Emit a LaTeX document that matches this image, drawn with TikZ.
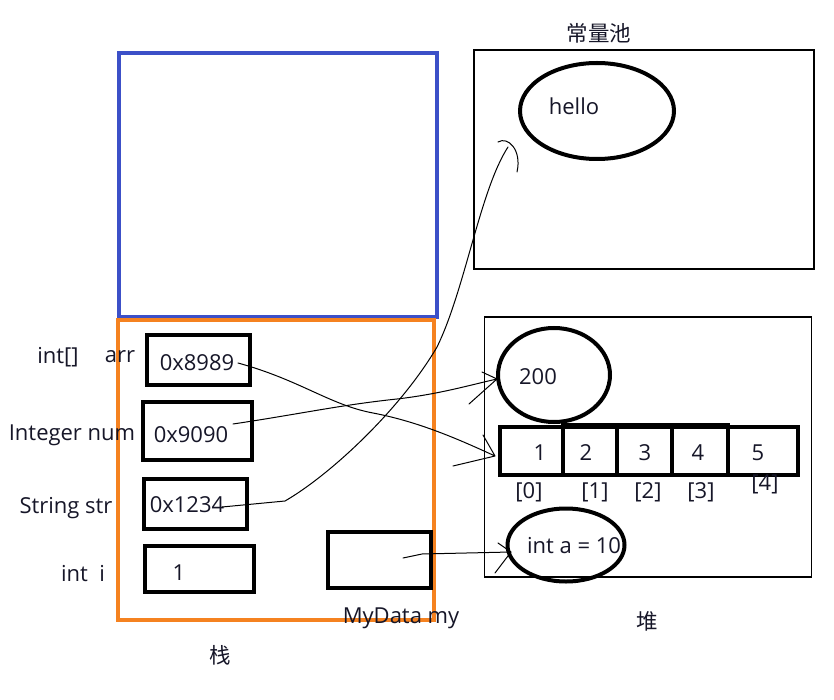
\documentclass[tikz,border=0pt]{standalone}
\usepackage{fontspec}
\setmainfont{Open Sans}
\newfontfamily\cjk{Noto Sans CJK SC}
\usetikzlibrary{arrows.meta,shapes.geometric}
\definecolor{ink}{RGB}{22,22,40}
\definecolor{stackorange}{RGB}{245,130,32}
\definecolor{stackblue}{RGB}{60,80,200}
\begin{document}
\begin{tikzpicture}[x=1pt,y=-1pt,
  txt/.style={font=\fontsize{22}{26}\selectfont, text=ink, inner sep=0pt},
  cjktxt/.style={font=\cjk\fontsize{21.5}{26}\selectfont, text=ink, inner sep=0pt},
  sbox/.style={draw=black, line width=4.5pt, inner sep=0pt},
  cell/.style={draw=black, line width=4pt, inner sep=0pt, minimum height=48pt},
  region/.style={draw=black, line width=1.8pt, inner sep=0pt},
  blob/.style={draw=black, ellipse, line width=4pt, inner sep=0pt},
  conn/.style={draw=black, line width=1pt, line cap=round, line join=round}]
\useasboundingbox (0,0) rectangle (834,700);
\fill[white] (0,0) rectangle (834,700);

% regions
\node[draw=stackblue, line width=3.2pt, minimum width=318pt, minimum height=264pt, inner sep=0pt] (upper) at (278,185) {};
\node[draw=stackorange, line width=3.2pt, minimum width=316pt, minimum height=300pt, inner sep=0pt] (stack) at (276,470) {};
\node[region, minimum width=340pt, minimum height=219pt] (pool) at (644,159.5) {};
\node[region, minimum width=327pt, minimum height=260pt] (heap) at (648,447) {};

% region titles
\node[cjktxt] (tpool) at (599,33) {常量池};
\node[cjktxt] (tstack) at (220,655) {栈};
\node[cjktxt] (theap) at (647,621) {堆};

% constant pool
\node[blob, minimum width=154pt, minimum height=96pt] (hello) at (597,111) {};
\node[txt] (thello) at (574,106) {hello};

% heap
\node[blob, minimum width=112pt, minimum height=94pt] (e200) at (554,375) {};
\node[txt] (t200) at (538,377) {200};
\node[cell, minimum width=63pt] (c0) at (531.5,451) {};
\node[cell, minimum width=54pt] (c1) at (590,451) {};
\node[cell, minimum width=55pt] (c2) at (644.5,451) {};
\node[cell, minimum width=56pt] (c3) at (700,451) {};
\node[cell, minimum width=70pt] (c4) at (763,451) {};
\draw[line width=4pt] (c1.north west) -- (c3.north east);
\node[txt] (n0) at (540,453) {1};
\node[txt] (n1) at (586,453) {2};
\node[txt] (n2) at (645,453) {3};
\node[txt] (n3) at (698,453) {4};
\node[txt] (n4) at (758,453) {5};
\node[txt] (i0) at (529,492) {[0]};
\node[txt] (i1) at (595,492) {[1]};
\node[txt] (i2) at (648,492) {[2]};
\node[txt] (i3) at (701,492) {[3]};
\node[txt] (i4) at (765,484) {[4]};
\node[blob, minimum width=117pt, minimum height=73pt] (ea) at (566,545) {};
\node[txt] (tea) at (574,546) {int a = 10};

% stack boxes
\node[sbox, minimum width=103pt, minimum height=50pt] (barr) at (198.5,360) {};
\node[sbox, minimum width=109pt, minimum height=58pt] (bnum) at (197.5,431) {};
\node[sbox, minimum width=103pt, minimum height=50pt] (bstr) at (195.5,504) {};
\node[sbox, minimum width=109pt, minimum height=46pt] (bi) at (199.5,569) {};
\node[sbox, minimum width=103pt, minimum height=56pt] (bmy) at (379.5,560) {};
\node[txt] (varr) at (197,363) {0x8989};
\node[txt] (vnum) at (191,435) {0x9090};
\node[txt] (vstr) at (187,505) {0x1234};
\node[txt] (vi) at (179,573) {1};

% stack labels
\node[txt] (larr1) at (58,357) {int[]};
\node[txt] (larr2) at (120,357) {arr};
\node[txt] (lnum) at (72,435) {Integer num};
\node[txt] (lstr) at (66,508) {String str};
\node[txt] (li) at (83,574) {int\ \ i};
\node[txt] (lmy) at (401,618) {MyData my};

% connector anchors
\coordinate (sArr) at (238,363);
\coordinate (eArr) at (495,456);
\coordinate (sNum) at (233,424);
\coordinate (eNum) at (497,379);
\coordinate (sStr) at (222,507);
\coordinate (eStr) at (508,147);
\coordinate (sMy) at (403,558);
\coordinate (eMy) at (511,552);

% connectors
\draw[conn] (sArr) .. controls (300,380) and (330,405) .. (373,413)
  .. controls (420,422) and (460,440) .. (eArr)
  (eArr) -- (483,435) (eArr) -- (453,466);
\draw[conn] (sNum) .. controls (300,414) and (340,405) .. (397,399)
  .. controls (440,394) and (470,385) .. (eNum)
  (eNum) -- (482,372) (eNum) -- (469,404);
\draw[conn] (sStr) -- (285,501) .. controls (330,475) and (400,410) .. (437,347)
  .. controls (465,290) and (480,190) .. (eStr);
\draw[conn] (498,142) .. controls (508,136) and (522,150) .. (517,172);
\draw[conn] (sMy) -- (422,554) -- (eMy)
  (eMy) -- (498,543) (eMy) -- (495,573);
\end{tikzpicture}
\end{document}
